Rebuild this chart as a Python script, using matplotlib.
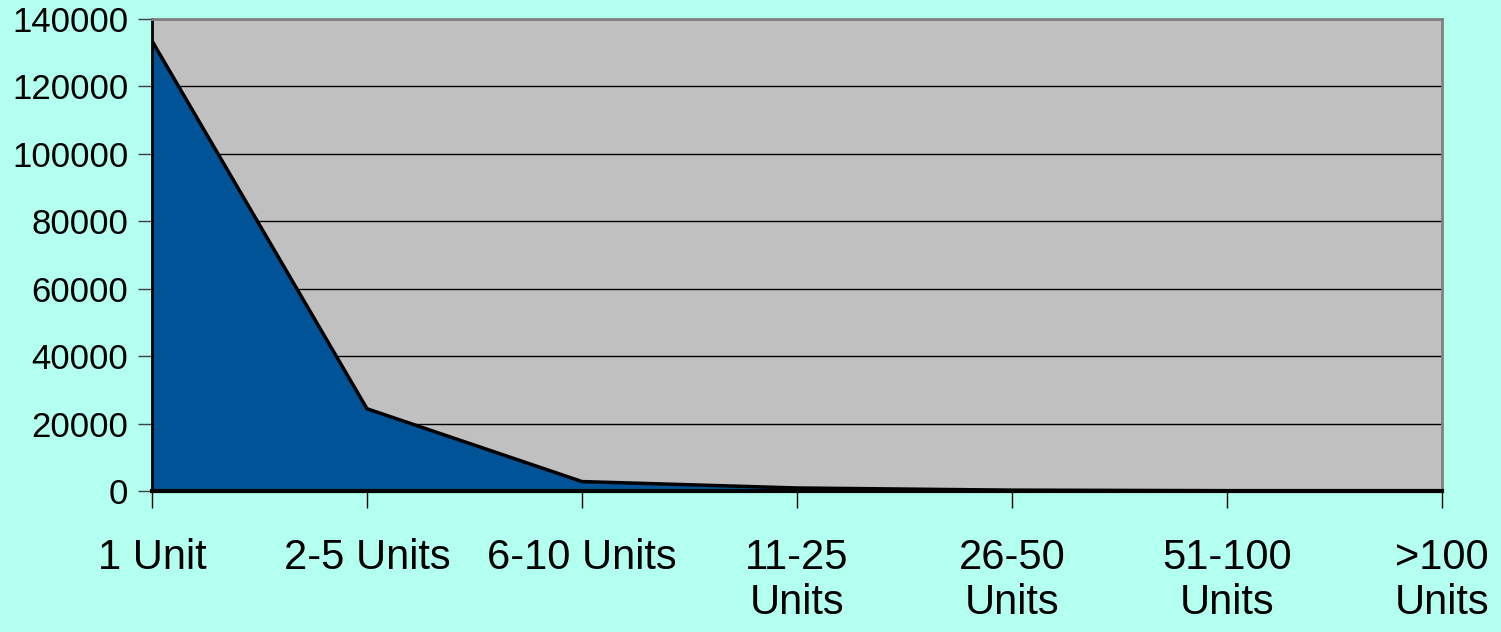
import numpy as np
import matplotlib.pyplot as plt

plt.rcParams['font.family'] = 'Liberation Sans'

categories = ['1 Unit', '2-5 Units', '6-10 Units', '11-25\nUnits', '26-50\nUnits', '51-100\nUnits', '>100\nUnits']
counts = [133500, 24400, 2800, 900, 250, 80, 40]

fig = plt.figure(figsize=(15.01, 6.32), dpi=100, facecolor='#B3FFF0')
ax = fig.add_axes([152 / 1501, 1 - 491 / 632, 1290 / 1501, 472 / 632])
ax.set_facecolor('#C0C0C0')

x = np.arange(len(categories))
ax.fill_between(x, counts, 0, color='#005396', zorder=2)
ax.plot(x, counts, color='black', lw=2.5, zorder=3, solid_joinstyle='miter')

ax.set_xlim(0, len(categories) - 1)
ax.set_ylim(0, 140000)
ax.set_yticks(np.arange(0, 140001, 20000))
ax.yaxis.grid(True, color='black', lw=1)
ax.set_axisbelow(True)

ax.set_xticks(x)
ax.set_xticklabels(categories, fontsize=30, linespacing=1.15, va='top')
ax.tick_params(axis='x', length=12, width=1, color='black', pad=22)
ax.tick_params(axis='y', length=10, width=1, color='#404040', labelsize=25, pad=7)

for side in ['top', 'right']:
    ax.spines[side].set_color('#808080')
    ax.spines[side].set_linewidth(2)
ax.spines['left'].set_color('black')
ax.spines['left'].set_linewidth(2)
ax.spines['bottom'].set_color('black')
ax.spines['bottom'].set_linewidth(3)

fig.savefig('out.png', dpi=100, facecolor=fig.get_facecolor())
